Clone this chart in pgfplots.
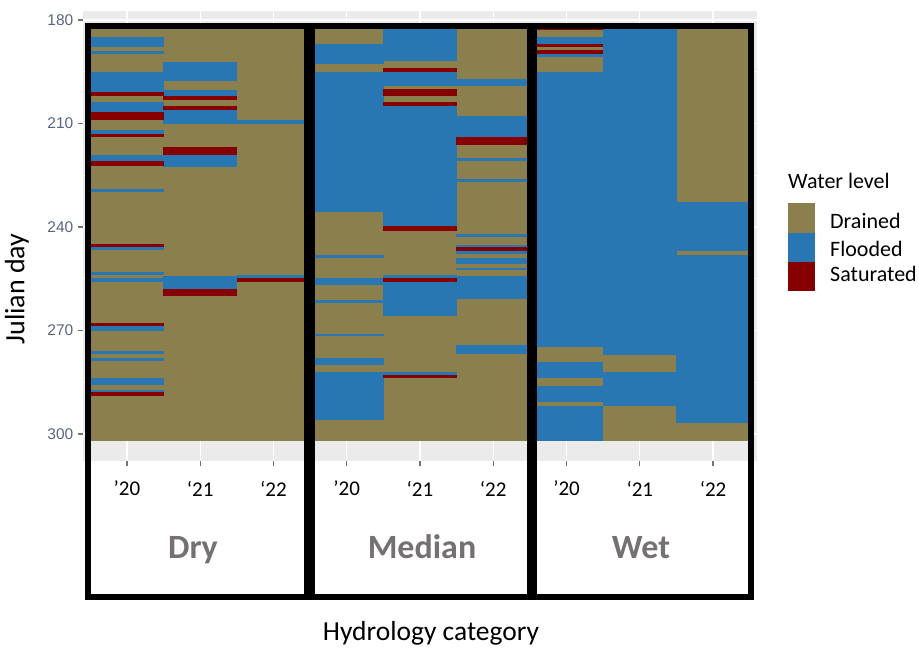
\documentclass[border=0pt]{standalone}
\usepackage{pgfplots}
\usepackage{pgfplotstable}
\pgfplotsset{compat=1.18}
\usepackage{fontspec}
\setmainfont{Carlito}
\newfontfamily\arial{Liberation Sans}
\definecolor{drained}{RGB}{139,127,78}
\definecolor{flooded}{RGB}{40,119,178}
\definecolor{saturated}{RGB}{135,0,0}
\definecolor{panelgray}{RGB}{235,235,235}
\definecolor{tickcol}{RGB}{88,100,130}
\definecolor{catgray}{RGB}{118,113,113}

% columns: 0-2 Dry '20,'21,'22 ; 3-5 Median ; 6-8 Wet ; s = start day, e = end day
\pgfplotstableread{
x s e
0 182.5 302
1 182.5 302
2 182.5 302
3 182.5 302
4 182.5 302
5 182.5 302
6 182.5 302
7 182.5 302
8 182.5 302
}\drainedtab

\pgfplotstableread{
x s e
0 184.9 187.7
0 189.0 189.9
0 195.0 200.8
0 203.9 206.8
0 212.0 213.1
0 219.1 220.9
0 229.0 229.8
0 245.8 246.8
0 253.0 253.9
0 254.9 255.9
0 268.7 270.0
0 275.9 276.9
0 277.9 278.8
0 283.9 285.8
0 287.1 287.7
1 192.1 197.7
1 200.2 201.9
1 206.2 210.1
1 219.1 222.7
1 254.1 258.0
2 209.1 210.1
2 254.0 254.7
3 187.0 192.8
3 195.0 235.7
3 248.1 248.9
3 254.9 256.8
3 261.2 261.9
3 270.9 271.7
3 278.1 280.0
3 282.1 295.9
4 182.5 191.9
4 195.0 199.0
4 205.0 239.8
4 254.0 254.7
4 255.9 265.7
4 282.1 282.9
5 197.1 199.0
5 207.9 213.9
5 219.9 220.9
5 226.2 226.9
5 242.1 242.9
5 245.1 245.8
5 247.0 247.9
5 248.9 250.8
5 251.8 252.6
5 254.1 260.9
5 274.2 276.9
6 184.9 187.0
6 189.9 190.7
6 195.0 274.8
6 279.0 283.7
6 286.2 290.8
6 292.0 302
7 182.5 277.1
7 281.9 292.0
8 232.8 247.0
8 248.1 296.8
}\floodedtab

\pgfplotstableread{
x s e
0 200.8 202.0
0 206.8 209.1
0 213.1 213.9
0 220.9 222.2
0 245.0 245.8
0 267.7 268.7
0 287.7 289.1
1 201.9 203.1
1 204.8 206.2
1 216.8 219.1
1 258.0 259.9
2 254.7 256.0
4 194.0 195.0
4 200.0 202.1
4 203.9 205.0
4 239.8 241.2
4 254.7 255.9
4 282.9 283.9
5 213.9 216.2
5 245.8 247.0
6 182.5 183.0
6 187.0 187.8
6 188.8 189.9
}\saturatedtab

\begin{document}
\begin{tikzpicture}[x=1pt,y=1pt]
\path[use as bounding box] (0,0) rectangle (919,-648);
\begin{axis}[
  at={(83pt,-460.7pt)}, anchor=south west,
  scale only axis, width=674pt, height=450pt,
  xmin=-0.6, xmax=8.6, ymin=177.3, ymax=307.74,
  y dir=reverse,
  axis background/.style={fill=panelgray},
  axis line style={draw=none},
  xtick={0,...,8},
  xticklabels={’20,‘21,‘22,’20,‘21,‘22,’20,‘21,‘22},
  ytick={180,210,240,270,300},
  minor ytick={195,225,255,285},
  grid=both,
  major grid style={white, line width=1.4pt},
  minor grid style={white, line width=0.7pt},
  tick align=outside, tick pos=left,
  major tick length=5pt, minor tick length=0pt,
  every tick/.style={color=black!55, line width=1.1pt},
  /pgf/number format/assume math mode=true,
  yticklabel style={font=\arial\fontsize{15.5}{17}\selectfont, text=tickcol, anchor=east, inner sep=0pt, xshift=-4.5pt},
  xticklabel style={font=\fontsize{21}{22}\selectfont, text=black, anchor=north, inner sep=0pt, yshift=-15pt},
]
\addplot[draw=drained, line width=73.6pt, quiver={u=0, v=\thisrow{e}-\thisrow{s}}] table[x=x, y=s] {\drainedtab};
\addplot[draw=flooded, line width=73.6pt, quiver={u=0, v=\thisrow{e}-\thisrow{s}}] table[x=x, y=s] {\floodedtab};
\addplot[draw=saturated, line width=73.6pt, quiver={u=0, v=\thisrow{e}-\thisrow{s}}] table[x=x, y=s] {\saturatedtab};
\end{axis}

% panel boxes
\draw[line width=6pt] (88,-25.5) rectangle (306.5,-596.5);
\draw[line width=6pt] (312,-25.5) rectangle (529.5,-596.5);
\draw[line width=6pt] (533.5,-25.5) rectangle (751,-596.5);

% category names
\node[anchor=base, font=\bfseries\fontsize{34}{36}\selectfont, text=catgray] at (193,-558) {Dry};
\node[anchor=base, font=\bfseries\fontsize{34}{36}\selectfont, text=catgray] at (422,-558) {Median};
\node[anchor=base, font=\bfseries\fontsize{34}{36}\selectfont, text=catgray] at (641,-558) {Wet};

% axis titles
\node[rotate=90, font=\fontsize{28}{30}\selectfont] at (17,-289) {Julian day};
\node[font=\fontsize{27.5}{30}\selectfont] at (431,-633) {Hydrology category};

% legend
\node[anchor=base west, font=\fontsize{22}{24}\selectfont, inner sep=0pt] at (788,-188.3) {Water level};
\fill[drained] (788,-203) rectangle (815,-233);
\fill[flooded] (788,-233) rectangle (815,-262);
\fill[saturated] (788,-262) rectangle (815,-291);
\node[anchor=base west, font=\fontsize{22}{24}\selectfont, inner sep=0pt] at (830,-228.3) {Drained};
\node[anchor=base west, font=\fontsize{22}{24}\selectfont, inner sep=0pt] at (830,-256.7) {Flooded};
\node[anchor=base west, font=\fontsize{22}{24}\selectfont, inner sep=0pt] at (830,-281.7) {Saturated};
\end{tikzpicture}
\end{document}
